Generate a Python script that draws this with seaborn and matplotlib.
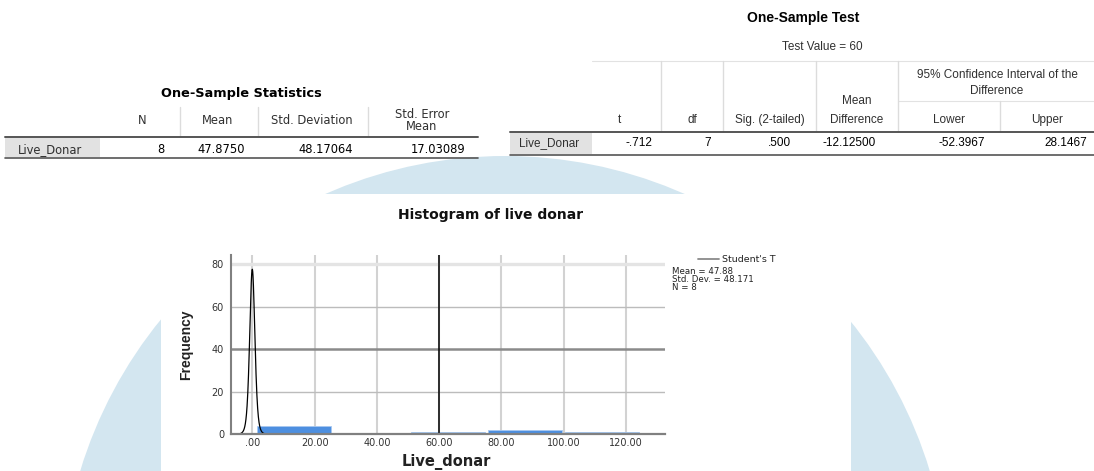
import numpy as np
import matplotlib
matplotlib.use("Agg")
import matplotlib.pyplot as plt
import seaborn as sns
from matplotlib.patches import Circle, Rectangle
from matplotlib import font_manager

# ---- One-Sample Statistics ----
stat_headers = ["N", "Mean", "Std. Deviation", "Std. Error\nMean"]
stat_values = ["8", "47.8750", "48.17064", "17.03089"]
row_label = "Live_Donar"

# ---- One-Sample Test ----
test_value = 60
test_headers = ["t", "df", "Sig. (2-tailed)", "Mean\nDifference", "Lower", "Upper"]
test_values = ["-.712", "7", ".500", "-12.12500", "-52.3967", "28.1467"]

# ---- Live donor observations (histogram) ----
live_donar = [2, 3, 4, 11, 63, 88, 95, 117]
bin_start = 1.0
bin_width = 24.7
n_bins = 5

# Student's t overlay (df from the test table)
t_df = 7
t_peak = 77.5
t_scale = 0.85

stats_lines = ["Mean = 47.88", "Std. Dev. = 48.171", "N = 8"]
x_ticks = [0, 20, 40, 60, 80, 100, 120]
x_tick_labels = [".00", "20.00", "40.00", "60.00", "80.00", "100.00", "120.00"]
y_ticks = [0, 20, 40, 60, 80]

sns.set_theme(style="white")
plt.rcParams["font.family"] = ["DejaVu Sans"]

installed = {f.name for f in font_manager.fontManager.ttflist}
NARROW = "Liberation Sans Narrow" if "Liberation Sans Narrow" in installed else "Liberation Sans"

W, H = 1094, 471
fig = plt.figure(figsize=(W / 100, H / 100), dpi=100)
fig.patch.set_facecolor("white")

# page canvas in pixel units
bg = fig.add_axes([0, 0, 1, 1])
bg.set_xlim(0, W)
bg.set_ylim(H, 0)
bg.axis("off")

bg.add_patch(Circle((505, 600), 444, fc="#d3e6f0", ec="none", zorder=0))
bg.add_patch(Rectangle((161, 194), 690, 290, fc="white", ec="none", zorder=1))

txt_col = "#303030"

# ---- left table ----
bg.text(241, 94, "One-Sample Statistics", ha="center", va="center",
        fontsize=9.3, fontweight="bold", color="black")
hdr_x = [141.7, 218, 311.7, 421.7]
for x, h in zip(hdr_x, stat_headers):
    lines = h.split("\n")
    if len(lines) == 1:
        bg.text(x, 120.7, h, ha="center", va="center", fontsize=8.3, color=txt_col)
    else:
        bg.text(x, 114, lines[0], ha="center", va="center", fontsize=8.3, color=txt_col)
        bg.text(x, 126.5, lines[1], ha="center", va="center", fontsize=8.3, color=txt_col)
for x in [180, 258, 368]:
    bg.plot([x, x], [107, 136], color="#dcdcdc", lw=1.0, zorder=2)
bg.add_patch(Rectangle((5, 138), 95, 19, fc="#e2e2e2", ec="none", zorder=2))
bg.text(18, 149.3, row_label, ha="left", va="center", fontsize=8.3, color=txt_col, zorder=3)
val_right = [164, 245, 353, 465]
for x, v in zip(val_right, stat_values):
    bg.text(x, 149.3, v, ha="right", va="center", fontsize=8.3, color="black", zorder=3)
bg.plot([5, 478], [137, 137], color="#555555", lw=1.4, zorder=3)
bg.plot([5, 478], [158.3, 158.3], color="#555555", lw=1.2, zorder=3)

# ---- right table ----
bg.text(803, 18, "One-Sample Test", ha="center", va="center", fontsize=10,
        fontweight="bold", family=NARROW, color="black")
bg.text(822, 47, f"Test Value = {test_value}", ha="center", va="center",
        fontsize=8.5, family=NARROW, color=txt_col)
bg.plot([592, 1094], [61, 61], color="#e2e2e2", lw=0.8)
bg.plot([898, 1094], [101, 101], color="#e2e2e2", lw=0.8)
for x in [661, 723, 816, 898]:
    bg.plot([x, x], [61, 131], color="#dcdcdc", lw=1.0)
bg.plot([1000, 1000], [101, 131], color="#dcdcdc", lw=1.0)
bg.text(997, 74.5, "95% Confidence Interval of the", ha="center",
        va="center", fontsize=8.5, family=NARROW, color=txt_col)
bg.text(997, 90.5, "Difference", ha="center",
        va="center", fontsize=8.5, family=NARROW, color=txt_col)
t_hdr_x = [619, 692, 770, 857, 949, 1047]
for x, h in zip(t_hdr_x, test_headers):
    lines = h.split("\n")
    if len(lines) == 1:
        bg.text(x, 120, h, ha="center", va="center", fontsize=8.5,
                family=NARROW, color=txt_col)
    else:
        bg.text(x, 101.5, lines[0], ha="center", va="center", fontsize=8.5,
                family=NARROW, color=txt_col)
        bg.text(x, 120, lines[1], ha="center", va="center", fontsize=8.5,
                family=NARROW, color=txt_col)
bg.add_patch(Rectangle((510, 132), 82, 22, fc="#e2e2e2", ec="none", zorder=2))
bg.text(519, 143, row_label, ha="left", va="center", fontsize=8.5,
        family=NARROW, color=txt_col, zorder=3)
t_val_right = [652, 711, 791, 876, 985, 1087]
for x, v in zip(t_val_right, test_values):
    bg.text(x, 143, v, ha="right", va="center", fontsize=8.5, family=NARROW,
            color="black", zorder=3)
bg.plot([510, 1094], [131.5, 131.5], color="#555555", lw=1.4, zorder=3)
bg.plot([510, 1094], [155, 155], color="#555555", lw=1.2, zorder=3)

# ---- histogram ----
px_l, px_r, px_t, px_b = 230.7, 665, 255, 434.3
ax = fig.add_axes([px_l / W, (H - px_b) / H, (px_r - px_l) / W, (px_b - px_t) / H])
ax.set_zorder(2)
ax.patch.set_alpha(0)

x_lo, x_hi = -6.93, 132.5
y_hi = 84.2
ax.set_xlim(x_lo, x_hi)
ax.set_ylim(0, y_hi)

for xv in x_ticks:
    ax.axvline(xv, color="#d2d2d2", lw=1.5, zorder=0)
grid_style = {20: ("#bcbcbc", 1.0), 40: ("#8a8a8a", 1.8), 60: ("#bcbcbc", 1.0), 80: ("#e4e4e4", 2.4)}
for yv, (c, lw) in grid_style.items():
    ax.axhline(yv, color=c, lw=lw, zorder=0)

edges = bin_start + bin_width * np.arange(n_bins + 1)
sns.histplot(x=live_donar, bins=edges, ax=ax, color="#4d8fe0", alpha=1,
             edgecolor="#a8c8f0", linewidth=0.6, shrink=0.96, zorder=2)

ax.axvline(test_value, color="black", lw=1.1, zorder=3)

xs = np.linspace(x_lo, x_hi, 3000)
dens = t_peak * (1 + (xs / t_scale) ** 2 / t_df) ** (-(t_df + 1) / 2)
sns.lineplot(x=xs, y=dens, ax=ax, color="black", lw=0.9, estimator=None,
             sort=False, zorder=4, legend=False)

for s in ["top", "right"]:
    ax.spines[s].set_visible(False)
ax.spines["left"].set_color("#808080")
ax.spines["left"].set_linewidth(1.5)
ax.spines["bottom"].set_color("#808080")
ax.spines["bottom"].set_linewidth(1.6)
ax.spines["bottom"].set_zorder(5)

ax.set_xticks(x_ticks)
ax.set_xticklabels(x_tick_labels)
ax.set_yticks(y_ticks)
ax.set_yticklabels([str(v) for v in y_ticks])
ax.tick_params(axis="both", length=0, labelsize=7, labelcolor="#333333")
ax.tick_params(axis="y", pad=4.8)
ax.tick_params(axis="x", pad=3.0)
ax.set_xlabel("")
ax.set_ylabel("")

bg.text(186, 344.5, "Frequency", rotation=90, ha="center", va="center",
        fontsize=10, family=NARROW, fontweight="bold", color="#222222")
bg.text(446, 461.5, "Live_donar", ha="center", va="center", fontsize=10.5,
        fontweight="bold", color="#222222", zorder=3)
bg.text(491, 215, "Histogram of live donar", ha="center", va="center",
        fontsize=10, fontweight="bold", color="#111111", zorder=3)

# legend block
bg.plot([698, 719], [259.3, 259.3], color="#8a8a8a", lw=1.3, zorder=3)
bg.text(722, 259.3, "Student's T", ha="left", va="center", fontsize=6.8,
        color="#222222", zorder=3)
for i, line in enumerate(stats_lines):
    bg.text(671.5, 272 + 7.5 * i, line, ha="left", va="center", fontsize=6.2,
            color="#222222", zorder=3)

fig.savefig("out.png", dpi=100, facecolor="white")
